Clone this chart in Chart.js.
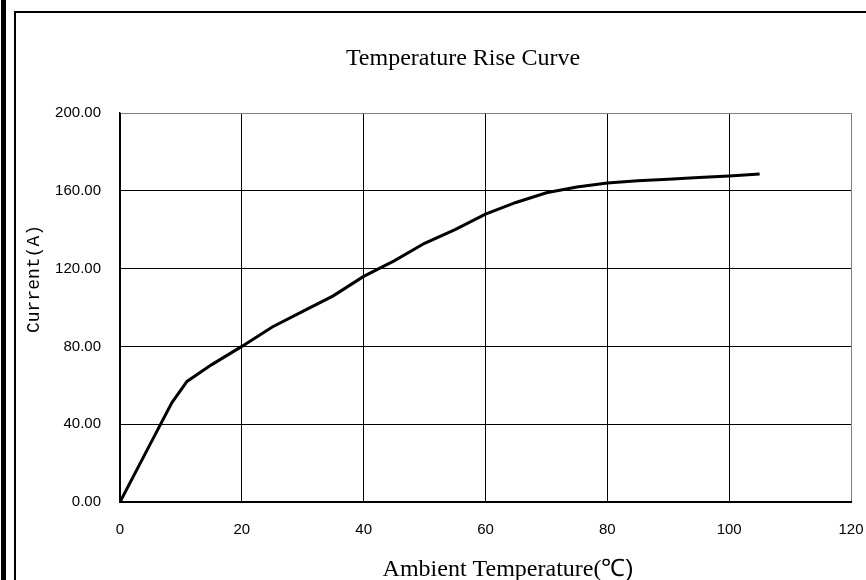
<!DOCTYPE html>
<html>
<head>
<meta charset="utf-8">
<script src="https://cdn.jsdelivr.net/npm/chart.js@4.4.1/dist/chart.umd.min.js"></script>
<style>
  html, body { margin: 0; padding: 0; background: #fff; }
  #wrap { position: relative; width: 866px; height: 580px; }
</style>
</head>
<body>
<div id="wrap"><canvas id="riseChart" width="866" height="580"></canvas></div>
<script>
// dados
const temperatura = [0, 5, 8.5, 11, 15, 20, 25, 30, 35, 40, 45, 50, 55, 60, 65, 70, 75, 80, 85, 90, 95, 100, 105];
const corrente = [0, 30, 51, 62, 70.5, 80, 90, 98, 106, 116, 124, 133, 140, 148, 154, 159, 162, 164, 165.2, 166, 166.8, 167.6, 168.6];

const xTicks = [0, 20, 40, 60, 80, 100, 120];
const yTicks = [0, 40, 80, 120, 160, 200];

const tituloGrafico = 'Temperature Rise Curve';
const tituloX = 'Ambient Temperature(';
const tituloXGrau = '\u2103)';
const tituloY = 'Current(A)';

const fonteNum = '"Liberation Sans Narrow", "Liberation Sans", Arial, sans-serif';

// moldura + textos que ficam fora dos eixos
const frame = {
    id: 'frame',
    beforeDraw(chart) {
        const c = chart.ctx;
        c.save();
        c.fillStyle = '#fff';
        c.fillRect(0, 0, chart.width, chart.height);
        c.fillStyle = '#000';
        c.fillRect(1, 0, 5, chart.height);
        c.fillRect(14, 11, 2, chart.height);
        c.fillRect(14, 11, chart.width, 2);
        c.restore();
    },
    afterDraw(chart) {
        const c = chart.ctx;
        c.save();
        c.fillStyle = '#000';
        c.textBaseline = 'alphabetic';
        c.textAlign = 'center';
        c.font = '24px "Liberation Serif", "Times New Roman", serif';
        c.fillText(tituloGrafico, 463, 65);

        // titulo X: parte serif + simbolo em sans
        c.textAlign = 'left';
        const w1 = c.measureText(tituloX).width;
        c.font = '24px "Liberation Sans", Arial, sans-serif';
        const w2 = c.measureText(tituloXGrau).width;
        let x0 = 508 - (w1 + w2) / 2;
        c.font = '24px "Liberation Serif", "Times New Roman", serif';
        c.fillText(tituloX, x0, 576);
        c.font = '24px "Liberation Sans", Arial, sans-serif';
        c.fillText(tituloXGrau, x0 + w1, 576);

        // titulo Y rotacionado
        c.translate(34, 279);
        c.rotate(-Math.PI / 2);
        c.textAlign = 'center';
        c.textBaseline = 'middle';
        c.font = '18px "Liberation Mono", "DejaVu Sans Mono", monospace';
        c.fillText(tituloY, 0, 0);
        c.restore();
    }
};

const ctx = document.getElementById('riseChart').getContext('2d');
new Chart(ctx, {
    type: 'line',
    data: {
        datasets: [{
            data: temperatura.map((t, i) => ({ x: t, y: corrente[i] })),
            borderColor: '#000',
            borderWidth: 3,
            pointRadius: 0,
            tension: 0,
            fill: false
        }]
    },
    options: {
        responsive: false,
        animation: false,
        layout: { padding: { left: 0, right: 15, top: 113, bottom: 0 } },
        plugins: { legend: { display: false }, title: { display: false }, tooltip: { enabled: false } },
        scales: {
            x: {
                type: 'linear',
                min: 0, max: 120,
                afterBuildTicks: s => { s.ticks = xTicks.map(v => ({ value: v })); },
                afterFit: s => { s.height = 78; s.paddingLeft = 0; s.paddingRight = 0; },
                grid: {
                    drawTicks: false,
                    color: c => (c.tick && c.tick.value === 120) ? '#808080' : '#000',
                    lineWidth: 1
                },
                border: { color: '#000', width: 2 },
                ticks: {
                    padding: 19,
                    color: '#000',
                    font: { family: fonteNum, size: 15 },
                    maxRotation: 0,
                    callback: v => String(v)
                }
            },
            y: {
                min: 0, max: 200,
                afterBuildTicks: s => { s.ticks = yTicks.map(v => ({ value: v })); },
                afterFit: s => { s.width = 120; s.paddingTop = 0; s.paddingBottom = 0; },
                grid: {
                    drawTicks: false,
                    color: c => (c.tick && c.tick.value === 200) ? '#808080' : '#000',
                    lineWidth: 1
                },
                border: { color: '#000', width: 1.5 },
                ticks: {
                    padding: 19,
                    color: '#000',
                    font: { family: fonteNum, size: 15 },
                    callback: v => Number(v).toFixed(2)
                }
            }
        }
    },
    plugins: [frame]
});
</script>
</body>
</html>
